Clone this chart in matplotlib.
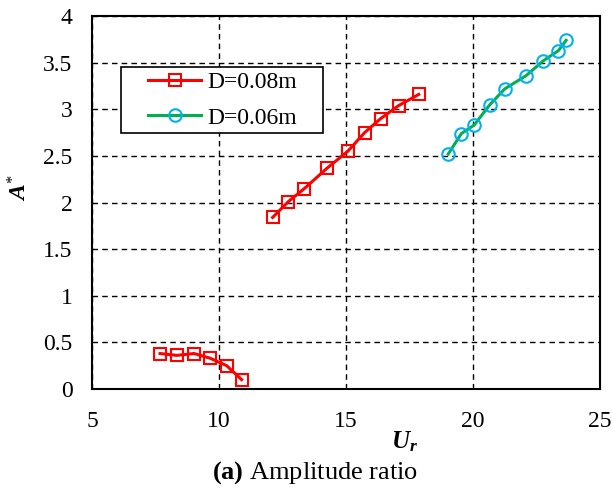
import matplotlib
matplotlib.use("Agg")
import matplotlib.pyplot as plt
from matplotlib.patches import Rectangle

plt.rcParams['font.family'] = ['Liberation Serif', 'DejaVu Serif']
plt.rcParams['mathtext.fontset'] = 'custom'
plt.rcParams['mathtext.rm'] = 'Liberation Serif'
plt.rcParams['mathtext.it'] = 'Liberation Serif:italic'
plt.rcParams['mathtext.bf'] = 'Liberation Serif:bold'
plt.rcParams['mathtext.bfit'] = 'Liberation Serif:bold:italic'

# D = 0.08 m (two branches)
ur_08_low = [7.68, 8.34, 9.02, 9.65, 10.30, 10.89]
a_08_low = [0.38, 0.36, 0.38, 0.33, 0.25, 0.10]
ur_08_high = [12.11, 12.73, 13.36, 14.26, 15.07, 15.73, 16.36, 17.07, 17.86]
a_08_high = [1.84, 2.01, 2.15, 2.37, 2.55, 2.75, 2.90, 3.04, 3.16]
# D = 0.06 m
ur_06 = [19.02, 19.54, 20.04, 20.66, 21.25, 22.08, 22.76, 23.36, 23.66]
a_06 = [2.52, 2.74, 2.83, 3.05, 3.22, 3.36, 3.52, 3.63, 3.74]

x_ticks = [5, 10, 15, 20, 25]
y_ticks = [0, 0.5, 1, 1.5, 2, 2.5, 3, 3.5, 4]
y_tick_labels = ['0', '0.5', '1', '1.5', '2', '2.5', '3', '3.5', '4']

fig = plt.figure(figsize=(6.13, 4.88), dpi=100)
ax = fig.add_axes([0.150, 0.203, 0.829, 0.764])

red = '#FF0000'
green = '#00B050'
cyan = '#00B0F0'

ax.plot(ur_08_low, a_08_low, color=red, lw=2.2, marker='s', ms=9,
        mfc='none', mec=red, mew=1.5, zorder=3)
ax.plot(ur_08_high, a_08_high, color=red, lw=2.2, marker='s', ms=9,
        mfc='none', mec=red, mew=1.5, zorder=3, label='D=0.08m')
ax.plot(ur_06, a_06, color=green, lw=2.2, marker='o', ms=9,
        mfc='none', mec=cyan, mew=1.5, zorder=3, label='D=0.06m')

ax.set_xlim(5, 25)
ax.set_ylim(0, 4)
ax.set_xticks(x_ticks)
ax.set_xticklabels([str(t) for t in x_ticks])
ax.set_yticks(y_ticks)
ax.set_yticklabels(y_tick_labels)
ax.tick_params(axis='both', length=0, labelsize=17)
ax.tick_params(axis='x', pad=16)
ax.tick_params(axis='y', pad=14)
ax.grid(True, color='black', linestyle=(0, (4, 3)), linewidth=1)
for s in ax.spines.values():
    s.set_linewidth(1.5)
    s.set_color('black')

# legend frame
frame = Rectangle((121 / 613, 1 - 133 / 488), 202 / 613, 66 / 488,
                  transform=fig.transFigure, facecolor='white',
                  edgecolor='black', linewidth=1.2, zorder=4, clip_on=False)
ax.add_artist(frame)
leg = ax.legend(loc='center left', bbox_to_anchor=(148 / 613, 1 - 100 / 488),
                bbox_transform=fig.transFigure, borderaxespad=0, borderpad=0,
                fontsize=17, frameon=False, handlelength=2.25,
                labelspacing=0.6, handletextpad=0.25)
leg.set_zorder(5)

fig.text(20 / 613, 1 - 188 / 488, r'$\mathbfit{A}^{*}$', rotation=90,
         ha='center', va='center', fontsize=17)
fig.text(405 / 613, 1 - 442 / 488, r'$\mathbfit{U}_{\mathbfit{r}}$',
         ha='center', va='center', fontsize=18)
fig.text(315 / 613, 1 - 473 / 488, r'$\mathbf{(a)}$ Amplitude ratio',
         ha='center', va='center', fontsize=19)

fig.savefig('out.png', dpi=100)
